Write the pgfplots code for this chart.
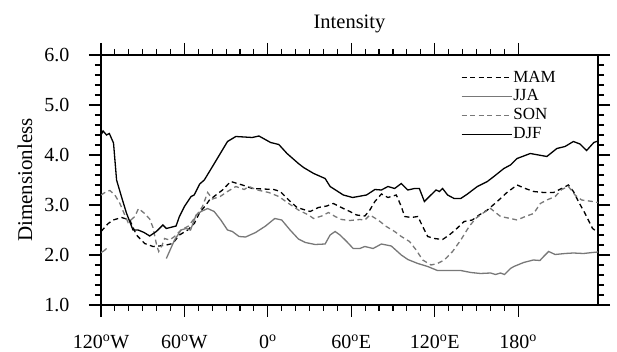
\documentclass[border=0pt]{standalone}
\usepackage{fontspec}
\setmainfont{Liberation Serif}
\usepackage{pgfplots}
\pgfplotsset{compat=1.18}
\definecolor{lgray}{RGB}{120,120,120}
\begin{document}
\begin{tikzpicture}
\useasboundingbox (-101pt,-47pt) rectangle (516pt,305pt);
\begin{axis}[
 scale only axis, width=497pt, height=250pt,
 xmin=-120, xmax=237.5, ymin=1, ymax=6,
 xtick={-120,-60,0,60,120,180},
 xticklabels={120\textsuperscript{o}W, 60\textsuperscript{o}W, 0\textsuperscript{o}, 60\textsuperscript{o}E, 120\textsuperscript{o}E, 180\textsuperscript{o}},
 minor x tick num=5,
 ytick={1,2,3,4,5,6}, minor y tick num=4,
 xtick pos=both, ytick pos=both,
 /pgf/number format/assume math mode=true,
 tick align=outside, major tick length=12pt, minor tick length=6pt,
 tick style={black, line width=1.1pt},
 axis line style={line width=1.2pt},
 ticklabel style={font=\fontsize{20}{24}\selectfont},
 xticklabel style={yshift=-14pt},
 yticklabel style={xshift=-16pt, /pgf/number format/.cd, fixed, fixed zerofill, precision=1},
 title={Intensity}, title style={font=\fontsize{20.5}{24}\selectfont, yshift=13pt},
 ylabel={Dimensionless}, ylabel style={font=\fontsize{21}{24}\selectfont, at={(axis description cs:-0.153,0.5)}, anchor=center},
 unbounded coords=jump,
 legend style={at={(0.718,0.955)}, anchor=north west, draw=none, fill=none,
   font=\fontsize{17}{18}\selectfont, row sep=0pt,
   nodes={inner sep=1pt, text height=12.6pt, text depth=4.2pt}},
 legend cell align=left,
 legend image code/.code={\draw[#1] (0pt,0pt) -- (50pt,0pt);},
]
% MAM
\addplot[black, line width=1.3pt, dash pattern=on 5pt off 3.5pt] coordinates {
(-120,2.47) (-114.8,2.63) (-111.2,2.7) (-105.2,2.75) (-99.3,2.7) (-94.5,2.4) (-88.6,2.23) (-82.6,2.17) (-78,2.18) (-73,2.2) (-68.4,2.23) (-63.6,2.4) (-57.6,2.5) (-52.9,2.63) (-49,2.85) (-44.5,3.0) (-42,3.1) (-32.6,3.3) (-26.7,3.47) (-18.3,3.4) (-11.2,3.33) (4.3,3.31) (9,3.27) (15,3.1) (21,2.95) (25.7,2.91) (30.5,2.87) (36.4,2.95) (42.4,2.98) (47.1,3.03) (54.3,2.93) (59,2.87) (63.8,2.8) (69.8,2.78) (73.4,2.9) (77,3.07) (81.7,3.22) (86.4,3.15) (92.4,3.2) (96,2.97) (98.4,2.77) (103.1,2.75) (107.9,2.77) (111.4,2.57) (115,2.37) (119.8,2.33) (125.7,2.31) (130.5,2.4) (135.2,2.51) (141.2,2.67) (147.1,2.7) (152,2.8) (157.9,2.9) (165,3.07) (172,3.25) (179.3,3.4) (185.2,3.33) (191.2,3.27) (198.4,3.25) (205.5,3.25) (211.4,3.33) (216.2,3.4) (219.8,3.27) (223.4,3.07) (228.2,2.83) (233.6,2.53) (237.5,2.45)
};
\addlegendentry{MAM}
% JJA
\addplot[lgray, line width=1.3pt] coordinates {
(-120,2.05) (-118,2.08) (-116,2.13) (-115,nan) (-73,1.93) (-67.1,2.3) (-62.4,2.5) (-58.8,2.53) (-55.6,2.5) (-51.6,2.8) (-48,2.87) (-43.3,2.93) (-38.6,2.87) (-33.8,2.7) (-29,2.5) (-25.5,2.47) (-20.7,2.37) (-16,2.36) (-8.8,2.45) (-1.6,2.58) (5,2.73) (10,2.7) (16,2.5) (22,2.32) (27,2.25) (34,2.21) (41.2,2.22) (44.8,2.4) (48.4,2.47) (51.9,2.4) (56.7,2.27) (61.4,2.13) (66.2,2.13) (69.8,2.17) (75.7,2.13) (81.7,2.22) (88.8,2.18) (96,2.0) (100.7,1.91) (104.3,1.87) (107.9,1.83) (115,1.77) (122,1.69) (131.7,1.69) (138.8,1.69) (146,1.65) (153,1.63) (160.2,1.64) (163.8,1.61) (167.4,1.64) (170.2,1.61) (174.5,1.73) (177,1.77) (184,1.85) (191,1.9) (195.7,1.89) (198.4,1.97) (202,2.07) (206.7,2.01) (213.8,2.03) (219.8,2.04) (227,2.03) (233.6,2.05) (237.5,2.06)
};
\addlegendentry{JJA}
% SON
\addplot[lgray, line width=1.3pt, dash pattern=on 5pt off 3.5pt] coordinates {
(-120,3.2) (-116,3.27) (-113.6,3.29) (-110,3.2) (-106.4,3.03) (-102.9,2.8) (-100.5,2.65) (-95.7,2.77) (-93,2.93) (-88.6,2.83) (-85,2.72) (-82.6,2.55) (-80,2.2) (-78.5,2.07) (-76,2.2) (-74.3,2.33) (-70.7,2.3) (-67.1,2.37) (-62.4,2.5) (-57,2.58) (-51.6,2.78) (-47,2.97) (-43.3,3.25) (-39.8,3.12) (-34.3,3.17) (-29,3.27) (-23,3.37) (-17,3.31) (-13.6,3.37) (-7.6,3.3) (0.7,3.25) (7.9,3.17) (15,3.03) (22,2.9) (29.3,2.8) (32.9,2.73) (38.8,2.78) (43.6,2.85) (48.4,2.77) (53,2.71) (59,2.69) (66.2,2.71) (69.8,2.7) (73.4,2.8) (79.3,2.7) (85.2,2.57) (91.2,2.47) (96,2.37) (101.9,2.27) (106.7,2.1) (111.4,1.9) (117.4,1.8) (122,1.83) (126.9,1.9) (132.9,2.07) (138.8,2.3) (144.8,2.57) (149.5,2.73) (154.3,2.83) (160.2,2.93) (167.4,2.77) (174.5,2.73) (179.3,2.7) (185.2,2.77) (191.2,2.83) (196,3.03) (200.7,3.1) (206.7,3.17) (211.4,3.31) (216.2,3.37) (221,3.2) (225.7,3.1) (233.6,3.07) (237.5,3.05)
};
\addlegendentry{SON}
% DJF
\addplot[black, line width=1.3pt] coordinates {
(-120,4.40) (-118.5,4.48) (-116,4.40) (-114,4.43) (-111,4.24) (-108.8,3.5) (-105,3.14) (-101.7,2.84) (-97,2.5) (-93.3,2.5) (-89,2.45) (-85,2.38) (-80.2,2.47) (-75.5,2.6) (-73,2.53) (-66,2.58) (-63.6,2.77) (-60,2.97) (-55.2,3.17) (-53,3.2) (-49,3.42) (-45.7,3.5) (-39.8,3.77) (-29,4.27) (-23,4.37) (-11.2,4.35) (-6.4,4.38) (2,4.25) (7.9,4.21) (13.8,4.03) (22,3.83) (25.7,3.75) (33,3.63) (41.2,3.53) (44.8,3.37) (54.3,3.2) (61,3.15) (71,3.2) (77,3.31) (81.7,3.3) (86.4,3.37) (91.2,3.33) (96,3.43) (100.7,3.3) (105.5,3.33) (109,3.33) (112.6,3.07) (116.2,3.17) (121,3.3) (123.4,3.27) (125.7,3.33) (129.3,3.2) (134,3.13) (138.8,3.13) (143.6,3.22) (150.7,3.37) (157.9,3.47) (162.6,3.57) (169.8,3.73) (174.5,3.8) (179.3,3.93) (188.8,4.03) (200.7,3.97) (207.9,4.13) (213.8,4.17) (219.8,4.27) (224.5,4.22) (229.3,4.09) (234.5,4.25) (237.5,4.28)
};
\addlegendentry{DJF}
\end{axis}
\end{tikzpicture}
\end{document}
